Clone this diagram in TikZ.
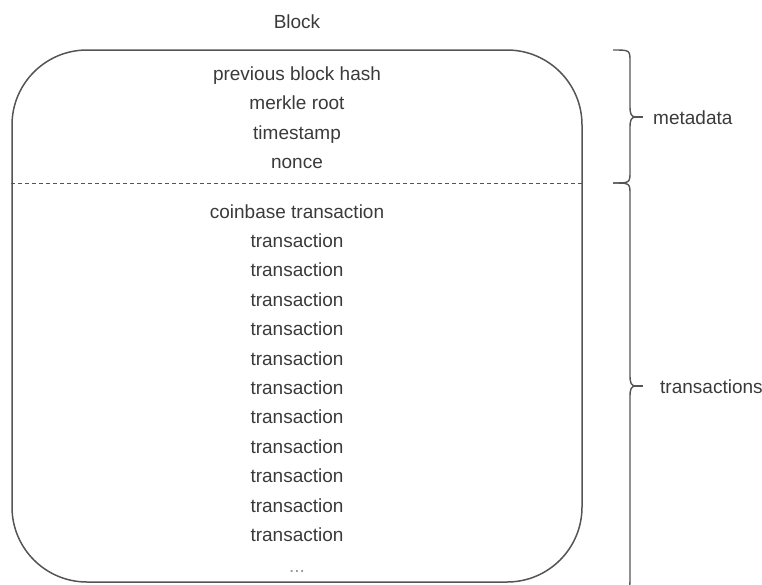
\documentclass[tikz,border=0pt]{standalone}
\usepackage{fontspec}
\setmainfont{Liberation Sans}
\definecolor{txtgray}{RGB}{58,58,58}
\definecolor{linegray}{RGB}{85,85,85}
\definecolor{dotgray}{RGB}{150,150,150}
\begin{document}
\begin{tikzpicture}[x=1pt,y=-1pt,
  lbl/.style={font=\fontsize{19}{22}\selectfont, text=txtgray, inner sep=0pt, anchor=base},
  sidelbl/.style={lbl, anchor=base west},
  boxline/.style={draw=linegray, line width=1.5pt},
  braceline/.style={draw=linegray, line width=1.4pt},
  sepline/.style={draw=linegray, line width=1pt, dash pattern=on 4pt off 3pt}]
\useasboundingbox (0,0) rectangle (762,584);
% block box
\node[boxline, rounded corners=75pt, minimum width=570pt, minimum height=532pt, inner sep=0pt] (box) at (297,316) {};
\node[lbl] (title) at (297,28.5) {Block};
% metadata lines
\node[lbl] (prev) at (297,80) {previous block hash};
\node[lbl] (merkle) at (297,109.5) {merkle root};
\node[lbl] (time) at (297,139) {timestamp};
\node[lbl] (nonce) at (297,168.5) {nonce};
% separator
\coordinate (sep) at (0,183);
\draw[sepline] (box.west |- sep) -- (box.east |- sep);
% transactions
\node[lbl] (coinbase) at (297,218) {coinbase transaction};
\foreach \i in {1,...,11}{
  \node[lbl] (tx\i) at (297,{218+29.4*\i}) {transaction};
}
\node[lbl, text=dotgray] (dots) at (297,572) {...};
% metadata brace
\coordinate (mA) at (613,50);
\coordinate (mM) at (636,117);
\coordinate (mB) at (613,183);
\draw[braceline] (mA) .. controls (630,50) .. (630,62) -- (630,106)
  .. controls (630,114) and (631,117) .. (mM)
  .. controls (631,117) and (630,120) .. (630,128) -- (630,171)
  .. controls (630,183) .. (mB);
\coordinate (mT) at (643,117);
\draw[braceline] (mM) -- (mT);
\node[sidelbl] (meta) at (653,124.5) {metadata};
% transactions brace
\coordinate (tA) at (613,183);
\coordinate (tM) at (636,386);
\coordinate (tB) at (613,590);
\draw[braceline] (tA) .. controls (630,183) .. (630,195) -- (630,375)
  .. controls (630,383) and (631,386) .. (tM)
  .. controls (631,386) and (630,389) .. (630,397) -- (630,578)
  .. controls (630,590) .. (tB);
\coordinate (tT) at (643,386);
\draw[braceline] (tM) -- (tT);
\node[sidelbl] (trans) at (660,393.5) {transactions};
\end{tikzpicture}
\end{document}
